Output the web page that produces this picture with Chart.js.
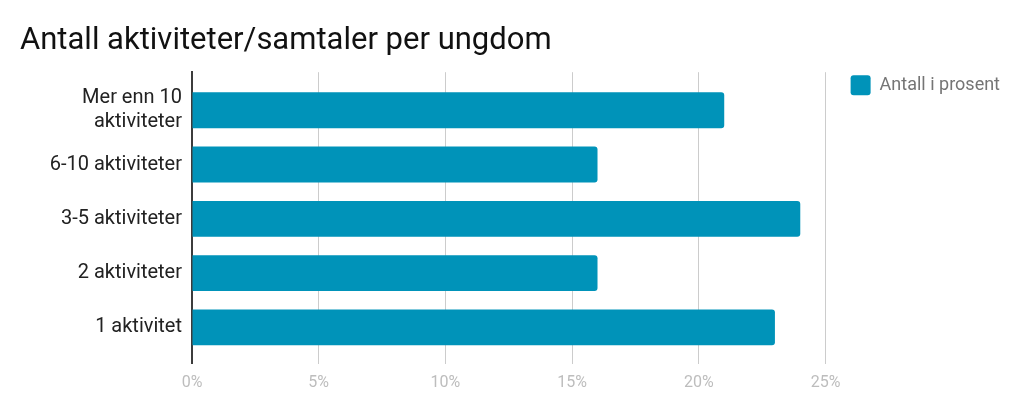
<!DOCTYPE html>
<html>
<head>
<meta charset="utf-8">
<script src="https://cdn.jsdelivr.net/npm/chart.js@4"></script>
<style>
  html, body { margin: 0; padding: 0; background: #fff; }
  #wrap { width: 1024px; height: 415px; }
</style>
</head>
<body>
<div id="wrap"><canvas id="bar_chart"></canvas></div>
<script>
var title = "Antall aktiviteter/samtaler per ungdom";
var seriesName = "Antall i prosent";
var categories = [["Mer enn 10", "aktiviteter"], "6-10 aktiviteter", "3-5 aktiviteter", "2 aktiviteter", "1 aktivitet"];
var percent = [21, 16, 24, 16, 23];
var xTicks = [0, 5, 10, 15, 20, 25];

var barColor = '#0093b9';

Chart.defaults.font.family = 'Roboto';

new Chart(document.getElementById("bar_chart").getContext("2d"), {
    type: 'bar',
    data: {
        labels: categories,
        datasets: [{
            label: seriesName,
            data: percent,
            backgroundColor: barColor,
            borderRadius: 3,
            categoryPercentage: 1,
            barPercentage: 0.66
        }]
    },
    options: {
        indexAxis: 'y',
        responsive: true,
        maintainAspectRatio: false,
        animation: false,
        layout: {
            padding: { left: 20, right: 14, top: 0, bottom: 12 }
        },
        scales: {
            x: {
                min: xTicks[0],
                max: xTicks[xTicks.length - 1],
                afterBuildTicks: function (scale) {
                    scale.ticks = xTicks.map(function (v) { return { value: v }; });
                },
                grid: {
                    color: function (ctx) { return ctx.tick && ctx.tick.value === 0 ? 'rgba(0,0,0,0)' : '#cccccc'; },
                    lineWidth: 1,
                    drawTicks: false
                },
                border: { display: false },
                ticks: {
                    padding: 10,
                    color: '#bdbdbd',
                    font: { size: 16 },
                    callback: function (v) { return v + '%'; }
                }
            },
            y: {
                // a little room above the first and below the last bar
                afterBuildTicks: function (scale) {
                    scale._startValue -= 0.2;
                    scale._valueRange += 0.37;
                },
                afterFit: function (scale) {
                    scale.width = 172;
                },
                grid: { display: false, drawTicks: false },
                border: { display: true, color: '#3c3c3c', width: 2 },
                ticks: {
                    padding: 10,
                    color: '#222222',
                    font: { size: 20 }
                }
            },
            gap: {
                type: 'linear',
                position: 'right',
                display: true,
                grid: { display: false, drawTicks: false },
                border: { display: false },
                ticks: { display: false },
                afterFit: function (scale) {
                    scale.width = 22;
                }
            }
        },
        plugins: {
            title: {
                display: true,
                text: title,
                align: 'start',
                color: '#111111',
                font: { size: 31, weight: 'normal' },
                padding: { top: 23, bottom: 12 }
            },
            legend: {
                position: 'right',
                align: 'start',
                fullSize: false,
                labels: {
                    boxWidth: 20,
                    boxHeight: 20,
                    useBorderRadius: true,
                    borderRadius: 3,
                    padding: 3,
                    color: '#757575',
                    font: { size: 18 }
                }
            },
            tooltip: { enabled: false }
        }
    }
});
</script>
</body>
</html>
